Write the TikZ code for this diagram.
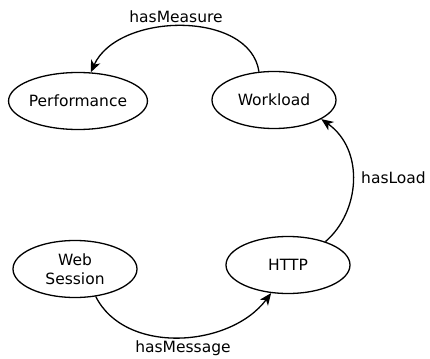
\documentclass[tikz,border=0pt]{standalone}
\usepackage{fontspec}
\setmainfont{DejaVu Sans}
\usetikzlibrary{arrows.meta,shapes.geometric}
\begin{document}
\begin{tikzpicture}[x=1pt,y=-1pt,
  concept/.style={draw,ellipse,line width=1.3pt,minimum width=124pt,minimum height=57pt,inner sep=0pt,align=center,font=\fontsize{15.5}{19}\selectfont},
  rel/.style={line width=1.3pt,-{Stealth[length=12pt,width=10pt,inset=3.5pt]}},
  lbl/.style={font=\fontsize{15.5}{19}\selectfont,inner sep=0pt}]
\useasboundingbox (0,0) rectangle (430,358);

\node[concept] (perf) at (78,101) {Performance};
\node[concept] (work) at (274,100) {Workload};
\node[concept] (web)  at (75,269) {Web\\Session};
\node[concept] (http) at (288,265) {HTTP};

% relations between the concepts
\draw[rel] (work.118) .. controls (250,10) and (118,12) .. (perf.66);
\draw[rel] (http.32) .. controls (360,212) and (365,150) .. (work.338);
\draw[rel] (web.-53) .. controls (125,355) and (230,348) .. (http.239);

% relation names
\node[lbl] (lm) at (176,17) {hasMeasure};
\node[lbl,anchor=west] (ll) at (361,178) {hasLoad};
\node[lbl] (lg) at (183,348) {hasMessage};
\end{tikzpicture}
\end{document}
